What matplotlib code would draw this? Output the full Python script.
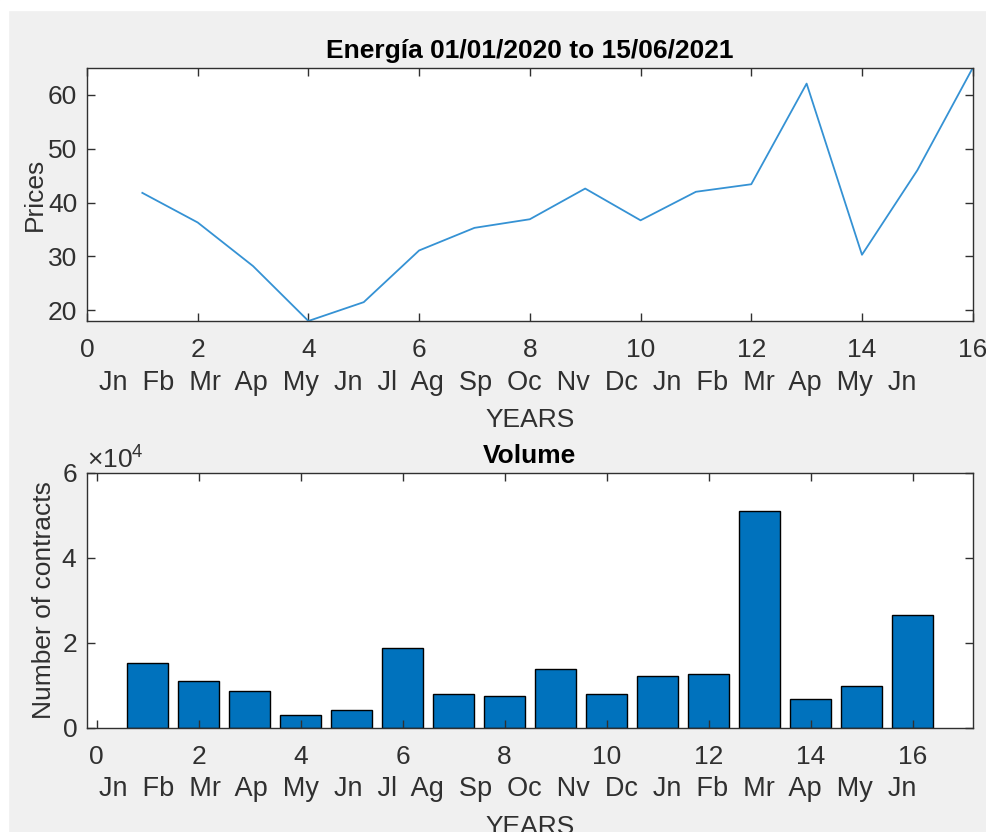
import numpy as np
import matplotlib.pyplot as plt
from matplotlib.ticker import ScalarFormatter
from matplotlib.patches import Rectangle

plt.rcParams['font.family'] = ['Liberation Sans', 'DejaVu Sans']
plt.rcParams['mathtext.fontset'] = 'custom'
plt.rcParams['mathtext.rm'] = 'Liberation Sans'
plt.rcParams['mathtext.it'] = 'Liberation Sans'

# data
periods = np.arange(1, 17)
prices = [41.8, 36.3, 28.2, 18.0, 21.5, 31.1, 35.3, 36.9,
          42.6, 36.7, 42.0, 43.4, 62.1, 30.3, 46.0, 65.0]
volume = [15300, 11100, 8700, 3000, 4200, 18700, 7900, 7500,
          13800, 7900, 12200, 12600, 51100, 6800, 9900, 26500]
months = ['Jn', 'Fb', 'Mr', 'Ap', 'My', 'Jn', 'Jl', 'Ag', 'Sp', 'Oc',
          'Nv', 'Dc', 'Jn', 'Fb', 'Mr', 'Ap', 'My', 'Jn']

blue = '#0072BD'
dark = '#303030'
fs = 19

fig = plt.figure(figsize=(9.86, 8.32), dpi=100, facecolor='#f0f0f0')
fig.patches.append(Rectangle((0, 0.988), 1, 0.012, transform=fig.transFigure,
                             color='white', zorder=-1))
fig.patches.append(Rectangle((0, 0), 0.008, 1, transform=fig.transFigure,
                             color='white', zorder=-1))

ax1 = fig.add_axes([0.0882, 0.6142, 0.8983, 0.3041])
ax2 = fig.add_axes([0.0882, 0.1254, 0.8983, 0.3061])

month_str = '  '.join(months)


def style(ax):
    for s in ax.spines.values():
        s.set_color(dark)
        s.set_linewidth(1.0)
    ax.tick_params(direction='in', top=True, right=True, length=6,
                   width=1, colors=dark, labelsize=fs)
    ax.tick_params(axis='x', pad=12.5)
    ax.tick_params(axis='y', pad=7)


# top: prices
ax1.plot(periods, prices, color='#3592d4', linewidth=1.3)
ax1.set_xlim(0, 16)
ax1.set_ylim(min(prices), max(prices))
ax1.set_xticks(np.arange(0, 17, 2))
ax1.set_yticks([20, 30, 40, 50, 60])
style(ax1)
ax1.set_title('Energía 01/01/2020 to 15/06/2021', fontsize=fs,
              fontweight='bold', color='black', pad=7)
ax1.set_ylabel('Prices', fontsize=fs, color=dark, labelpad=1)
ax1.text(0.475, -0.245, month_str, transform=ax1.transAxes, ha='center',
         va='center', fontsize=19.5, color=dark)
ax1.set_xlabel('YEARS', fontsize=fs, color=dark, labelpad=33)

# bottom: volume
ax2.bar(periods, volume, width=0.8, color=blue, edgecolor='black',
        linewidth=1.0)
ax2.set_xlim(-0.19, 17.18)
ax2.set_ylim(0, 60000)
ax2.set_xticks(np.arange(0, 17, 2))
ax2.set_yticks([0, 20000, 40000, 60000])
fmt = ScalarFormatter(useMathText=True)
fmt.set_powerlimits((0, 0))
ax2.yaxis.set_major_formatter(fmt)
ax2.yaxis.get_offset_text().set_fontsize(fs)
ax2.yaxis.get_offset_text().set_color(dark)
style(ax2)
ax2.set_title('Volume', fontsize=fs, fontweight='bold', color='black', pad=7)
ax2.set_ylabel('Number of contracts', fontsize=fs, color=dark, labelpad=4)
ax2.text(0.475, -0.24, month_str, transform=ax2.transAxes, ha='center',
         va='center', fontsize=19.5, color=dark)
ax2.set_xlabel('YEARS', fontsize=fs, color=dark, labelpad=33)

fig.savefig('out.png', dpi=100, facecolor=fig.get_facecolor())
